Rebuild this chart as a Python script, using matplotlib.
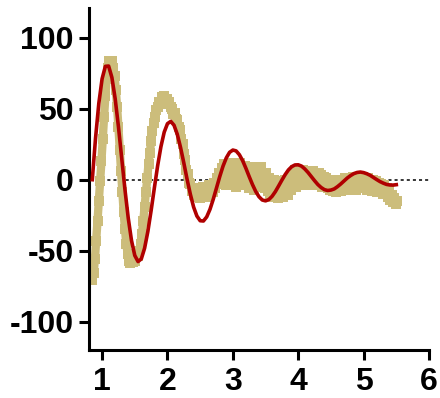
import matplotlib.pyplot as plt
import numpy as np

plt.rcParams['font.family'] = ['Liberation Sans', 'DejaVu Sans']
plt.rcParams['axes.unicode_minus'] = False

# measured signal, sampled every 0.02 from 0.85
t_data = np.round(np.arange(0.85, 5.52, 0.02), 2)
y_data = [
    -71, -66, -56, -43, -29, -15, -1, 13, 29, 44,
    59, 71, 79, 84, 81, 84, 79, 73, 63, 51,
    37, 21, 6, -9, -23, -35, -45, -52, -57, -59,
    -56, -58, -55, -57, -53, -54, -50, -45, -38, -29,
    -19, -9, 1, 11, 19, 27, 34, 40, 44, 49,
    51, 55, 54, 58, 56, 59, 55, 57, 53, 55,
    51, 50, 46, 47, 43, 42, 37, 35, 29, 25,
    18, 14, 7, 4, -2, -3, -8, -6, -11, -7,
    -12, -6, -13, -8, -12, -5, -11, -7, -12, -4,
    -10, -5, -9, -2, -6, 1, -3, 5, -1, 8,
    0, 11, -4, 9, 3, 12, -3, 7, 1, 11,
    -5, 8, 2, 12, -2, 6, -4, 10, -1, 7,
    -6, 9, -3, 4, -7, 8, 0, 6, -5, 9,
    -2, 3, -6, 5, -8, 1, -10, -2, -12, 0,
    -9, -4, -13, -1, -11, -3, -12, 0, -9, -5,
    -11, 2, -7, 4, -4, 7, -5, 6, -3, 5,
    -4, 7, -2, 4, -3, 5, -4, 3, -2, 6,
    -3, 2, -4, 5, -1, 3, -5, 2, -3, 1,
    -6, 0, -7, -1, -8, -2, -9, 0, -7, -3,
    -8, -1, -6, 1, -7, -2, -5, 0, -6, 2,
    -4, 0, -7, 1, -5, -1, -6, 2, -4, 0,
    -7, 1, -5, -2, -8, 0, -6, -1, -9, -2,
    -7, -3, -10, -4, -9, -6, -12, -8, -14, -11,
    -16, -13, -17, -15,
]

# fitted damped oscillation, read every 0.05 from 0.85
t_fit = np.round(np.arange(0.85, 5.51, 0.05), 2)
y_fit = [
    0.0, 29.4, 53.8, 71.1, 79.9, 80.1, 72.0, 57.1, 37.4, 15.2,
    -7.1, -27.0, -42.9, -53.4, -57.7, -55.8, -48.3, -36.5, -21.7, -5.6,
    9.9, 23.3, 33.5, 39.5, 41.1, 38.4, 32.0, 22.7, 11.8, 0.3,
    -10.3, -19.3, -25.6, -28.9, -29.1, -26.2, -20.9, -13.8, -5.8, 2.3,
    9.6, 15.4, 19.3, 20.9, 20.3, 17.6, 13.4, 8.0, 2.2, -3.4,
    -8.3, -12.0, -14.3, -14.9, -14.0, -11.7, -8.4, -4.4, -0.3, 3.6,
    6.9, 9.2, 10.4, 10.5, 9.6, 7.6, 5.1, 2.2, -0.7, -3.4,
    -5.5, -7.0, -7.6, -7.3, -6.5, -4.9, -3.0, -0.9, 1.2, 2.9,
    4.3, 5.1, 5.4, 5.0, 4.2, 3.1, 1.6, 0.1, -1.3, -2.4,
    -3.3, -3.7, -3.8, -3.5,
]

x_ticks = [1, 2, 3, 4, 5, 6]
y_ticks = [-100, -50, 0, 50, 100]
tan = '#CCBD7B'

fig = plt.figure(figsize=(4.4, 3.98), dpi=100)
ax = fig.add_axes([0.2023, 0.1206, 0.7727, 0.8593])

ax.axhline(0, color='black', lw=1.1, linestyle=(0, (2, 2)), zorder=1)
# thick line under the square markers so the steep parts read as a band
ax.plot(t_data, y_data, color=tan, lw=6, solid_joinstyle='round',
        solid_capstyle='butt', zorder=2)
ax.plot(t_data, y_data, linestyle='none', marker='s', markersize=7.8,
        markeredgewidth=0, color=tan, zorder=2)
ax.plot(t_fit, y_fit, color='#B00000', lw=2.6, zorder=3)

ax.set_xlim(0.8, 6)
ax.set_ylim(-120, 121)
ax.set_xticks(x_ticks)
ax.set_yticks(y_ticks)

for s in ['top', 'right']:
    ax.spines[s].set_visible(False)
for s in ['left', 'bottom']:
    ax.spines[s].set_linewidth(2.2)

ax.tick_params(axis='both', length=7, width=2.2, labelsize=23)
ax.tick_params(axis='y', pad=4)
ax.tick_params(axis='x', pad=5)
for lab in ax.get_xticklabels() + ax.get_yticklabels():
    lab.set_fontweight('bold')

fig.savefig('out.png', dpi=100)
